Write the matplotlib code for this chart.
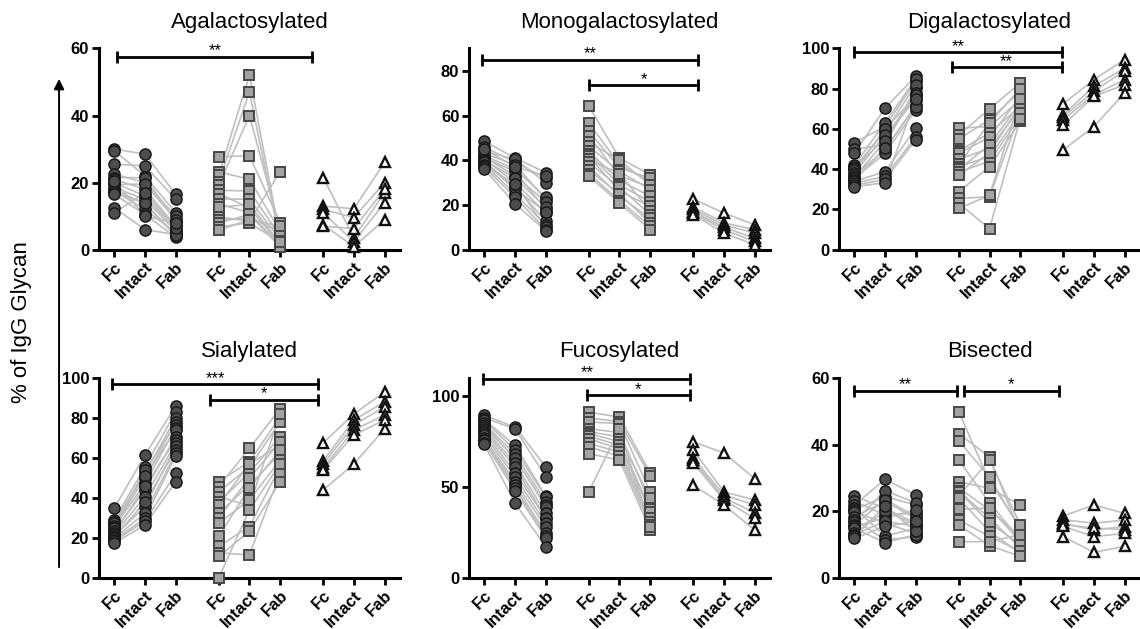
import matplotlib
matplotlib.use('Agg')
import matplotlib.pyplot as plt

plt.rcParams['font.family'] = ['Liberation Sans', 'DejaVu Sans']

# x categories (3 groups x Fc / Intact / Fab)
tick_labels = ['Fc', 'Intact', 'Fab'] * 3
positions = [0, 1, 2, 3.4, 4.4, 5.4, 6.8, 7.8, 8.8]

titles = ['Agalactosylated', 'Monogalactosylated', 'Digalactosylated',
          'Sialylated', 'Fucosylated', 'Bisected']

# each row = one subject: [Fc, Intact, Fab]
agal_circles = [[30, 28.5, 16.5], [29.5, 22, 11], [25.5, 25, 15], [22.5, 20, 10],
                [21.5, 21.5, 8.5], [21, 18, 7], [20, 16, 6], [19.5, 19.5, 9],
                [18.5, 15, 5.5], [18, 13.5, 4.5], [17.5, 12, 5], [17, 14, 4],
                [16.5, 10.5, 3.7], [12.5, 6, 4.5], [11, 17, 6.5], [20.5, 10, 8]]
agal_squares = [[27.7, 28, 8], [23.2, 21, 5.5], [22.2, 52, 3.5], [20.2, 47, 2.5],
                [19.2, 40, 6], [17.7, 17.5, 4], [16.7, 12.5, 1.5], [15.2, 15, 3],
                [13.7, 11, 1], [12.7, 13.5, 2], [9.8, 8.5, 23.3], [8.8, 9.5, 5.5],
                [8, 10.5, 0.8], [6.8, 8, 2.2], [5.8, 9, 7]]
agal_triangles = [[21.5, 3.6, 17], [13, 12.2, 26], [12, 9.6, 20], [11, 2.4, 14],
                  [7.5, 0.9, 9], [7, 6.3, 18]]

mono_circles = [[48.5, 41, 34.5], [46, 39, 32], [44, 40.5, 30], [43, 38, 22.5],
                [42, 36, 23.5], [41.5, 33, 21.5], [41, 35, 18], [40.5, 30, 16.5],
                [40, 32, 19], [39.5, 28, 13], [39, 27, 17], [38, 25, 11],
                [37.5, 29.5, 10], [37, 23.5, 9], [36, 20.5, 8.5], [45, 37, 33]]
mono_squares = [[64.3, 41, 33.5], [56.8, 38, 30.5], [53, 36.5, 32], [50.8, 33, 28],
                [48, 40, 29], [46.3, 35, 26.9], [44, 31, 23.9], [43, 29, 21.5],
                [41.9, 26.2, 19.4], [40.4, 34, 17.5], [39, 28, 15.7], [37.4, 23.9, 14],
                [35.5, 25, 12], [34, 22, 10.5], [32.9, 20.9, 9]]
mono_triangles = [[22.7, 16.4, 11.2], [19.1, 12, 9], [18, 11, 7.5], [17, 10, 5.2],
                  [16.4, 9, 3.7], [15.7, 7.5, 2.2]]

digal_circles = [[53.2, 61.2, 84], [50, 52.1, 80.4], [47.9, 70.4, 86.2], [42, 63.2, 85],
                 [41, 58.7, 82], [40.5, 55.4, 78], [39.6, 60, 76.2], [38, 57, 74.5],
                 [37, 49.6, 72], [36, 54, 77], [35.5, 47.9, 69.6], [34.6, 50.5, 71],
                 [34, 38.8, 60.4], [33, 36.5, 56], [32, 34.9, 54.6], [31.3, 33.3, 75]]
digal_squares = [[60.4, 61.2, 74.5], [57, 69.9, 82.9], [55, 64.6, 78.7], [49, 58, 71.2],
                 [47.9, 55.9, 76], [44.9, 50.4, 70], [42.5, 63, 80], [41.3, 46.3, 67.9],
                 [40, 52, 73], [38.5, 44, 66], [37.1, 48, 72], [28.8, 41.3, 63.7],
                 [25.5, 26.3, 68], [23, 10.5, 65], [20.5, 27, 75]]
digal_triangles = [[72.5, 84.5, 94.5], [67, 81.2, 90.3], [66, 78.7, 89],
                   [64.6, 77, 84.5], [62.1, 76.2, 82], [49.6, 61.2, 77.9]]

sial_circles = [[34.9, 61.5, 85.9], [29, 55.6, 83], [28, 52.3, 80], [27.4, 49.8, 78],
                [26, 54, 76.4], [25.5, 47.3, 75], [24.9, 51, 73.9], [23.5, 44, 70.6],
                [22.4, 46, 69], [22, 40.7, 67.3], [21, 35.7, 66], [20.5, 38, 64],
                [19.9, 32.4, 62.5], [19, 29.9, 61], [18.5, 28.5, 52.3], [17.4, 26.6, 48.2]]
sial_squares = [[48.2, 58.1, 80.6], [45.7, 64.8, 84.7], [43, 55.6, 78], [40.7, 36, 82],
                [38, 52.7, 70.6], [36.5, 57, 66.4], [32.4, 46.5, 62.3], [30, 50, 68],
                [27.4, 39, 59], [20.8, 45, 64], [15.8, 25.7, 55.6], [12.5, 11.6, 52.3],
                [10.8, 23.3, 48.2], [0, 34, 57]]
sial_triangles = [[67.5, 82, 93], [58.5, 79, 88], [57, 76.5, 85.5], [55, 74, 81.5],
                  [54, 71.5, 79], [44, 57, 74.5]]

fuco_circles = [[89.4, 83, 61.1], [88, 82, 55.7], [87, 73, 45], [86.7, 70.3, 44.7],
                [85, 68, 42], [84, 65.7, 40], [83, 66, 39.2], [82.1, 63, 35.6],
                [81, 61.1, 33], [80, 58, 32.8], [78.5, 55.7, 30.1], [77, 53, 28],
                [76, 51.1, 24.6], [75.7, 49.5, 23], [74.5, 48, 21.9], [73.5, 41.1, 17.3]]
fuco_squares = [[91.2, 88.5, 57.8], [88, 86, 56], [85.8, 84.9, 47.4], [82.1, 80, 41.1],
                [80.5, 77.6, 44], [79.4, 75, 38], [78, 73, 36.5], [76.6, 71, 33],
                [74, 69.3, 31], [72.1, 67, 29], [68.4, 64.8, 26.5], [47.4, 82, 28]]
fuco_triangles = [[74.8, 68.8, 54.7], [70.3, 47.4, 42.9], [66, 45.6, 40.1],
                  [64.8, 44, 36], [63.3, 42.9, 32.8], [51.1, 40.1, 26.5]]

bis_circles = [[24.6, 20.9, 16.4], [23, 18.9, 19.4], [21.9, 29.6, 24.9], [21, 12.6, 14.9],
               [20.5, 24.4, 21.9], [19.9, 16.4, 13.4], [18.4, 22.9, 17.9], [17.5, 11.4, 12.4],
               [16.9, 26.2, 22.5], [16, 23.5, 18.5], [15.5, 18, 20.5], [14.9, 10.6, 13],
               [13.4, 20, 16], [13, 17, 15.5], [12.5, 21.5, 14], [11.9, 15.5, 17]]
bis_squares = [[49.8, 29, 15.4], [43.3, 36.3, 13.4], [41.1, 30.3, 14.5], [35.3, 22.6, 11.4],
               [28.9, 26.9, 21.9], [27, 20.4, 12.5], [26, 18, 9], [25.9, 16.6, 10],
               [24.5, 35.5, 16], [23.9, 13.9, 7.5], [20.6, 21, 11], [17.4, 12.5, 8],
               [15.9, 9.7, 6.5], [10.9, 10.9, 13]]
bis_triangles = [[18.6, 21.9, 19.4], [17.5, 16.4, 17.4], [16.4, 14.4, 15.4],
                 [16, 15, 14.5], [15.5, 12.4, 13.4], [12.4, 7.7, 9.5]]

panel_data = [
    (agal_circles, agal_squares, agal_triangles),
    (mono_circles, mono_squares, mono_triangles),
    (digal_circles, digal_squares, digal_triangles),
    (sial_circles, sial_squares, sial_triangles),
    (fuco_circles, fuco_squares, fuco_triangles),
    (bis_circles, bis_squares, bis_triangles),
]

y_max = [60, 90, 100, 100, 110, 60]
y_ticks = [[0, 20, 40, 60], [0, 20, 40, 60, 80], [0, 20, 40, 60, 80, 100],
           [0, 20, 40, 60, 80, 100], [0, 50, 100], [0, 20, 40, 60]]

# significance bars: (x start, x end, y, stars)
brackets = [
    [(0.1, 6.45, 57.5, '**')],
    [(-0.07, 6.97, 85, '**'), (3.4, 6.97, 73.5, '*')],
    [(0.0, 6.75, 98.2, '**'), (3.17, 6.75, 90.7, '**')],
    [(-0.07, 6.63, 96.8, '***'), (3.1, 6.63, 89.2, '*')],
    [(-0.03, 6.7, 109.5, '**'), (3.33, 6.7, 100.4, '*')],
    [(0.0, 3.33, 56.2, '**'), (3.56, 6.67, 56.2, '*')],
]

styles = [
    dict(marker='o', ms=8, mfc='#4d4d4d', mec='#1a1a1a', mew=1.1),
    dict(marker='s', ms=6.8, mfc='#a3a3a3', mec='#474747', mew=1.4),
    dict(marker='^', ms=7, mfc='white', mec='#111111', mew=1.7),
]

fig = plt.figure(figsize=(11.4, 6.29), dpi=100)

lefts = [0.0868, 0.4114, 0.736]
rows = [(0.603, 0.32), (0.0811, 0.318)]

for i in range(6):
    b, h = rows[i // 3]
    ax = fig.add_axes([lefts[i % 3], b, 0.264, h])
    for g, group in enumerate(panel_data[i]):
        xs = positions[g * 3:g * 3 + 3]
        for row in group:
            ax.plot(xs, row, color='#bfbfbf', lw=1.2, zorder=1, clip_on=False)
        for row in group:
            ax.plot(xs, row, ls='none', zorder=3, clip_on=False, **styles[g])

    for x1, x2, yb, stars in brackets[i]:
        ax.plot([x1, x2], [yb, yb], color='k', lw=2.0, clip_on=False, zorder=4)
        ax.plot([x1, x2], [yb, yb], ls='none', marker='|', ms=9, mew=2.0,
                color='k', clip_on=False, zorder=4)
        ax.annotate(stars, ((x1 + x2) / 2, yb), xytext=(0, 1),
                    textcoords='offset points', ha='center', va='baseline',
                    fontsize=12)

    ax.set_xlim(-0.5, 9.3)
    ax.set_ylim(0, y_max[i])
    ax.set_xticks(positions)
    ax.set_xticklabels(tick_labels, rotation=45, ha='right',
                       rotation_mode='anchor', fontweight='bold', fontsize=12)
    ax.set_yticks(y_ticks[i])
    ax.set_yticklabels([str(t) for t in y_ticks[i]], fontweight='bold', fontsize=12)
    ax.tick_params(direction='out', length=5, width=2, pad=2)
    ax.spines['top'].set_visible(False)
    ax.spines['right'].set_visible(False)
    ax.spines['left'].set_linewidth(2.2)
    ax.spines['bottom'].set_linewidth(2.2)
    ax.set_title(titles[i], fontsize=16, y=1.0, pad=15)

fig.text(0.019, 0.488, '% of IgG Glycan', rotation=90, fontsize=16,
         ha='center', va='center')
fig.add_artist(matplotlib.patches.FancyArrowPatch(
    (0.0518, 0.094), (0.0518, 0.879), transform=fig.transFigure,
    arrowstyle='-|>,head_length=6,head_width=3', lw=1.4, color='k'))

fig.savefig('out.png', dpi=100)
